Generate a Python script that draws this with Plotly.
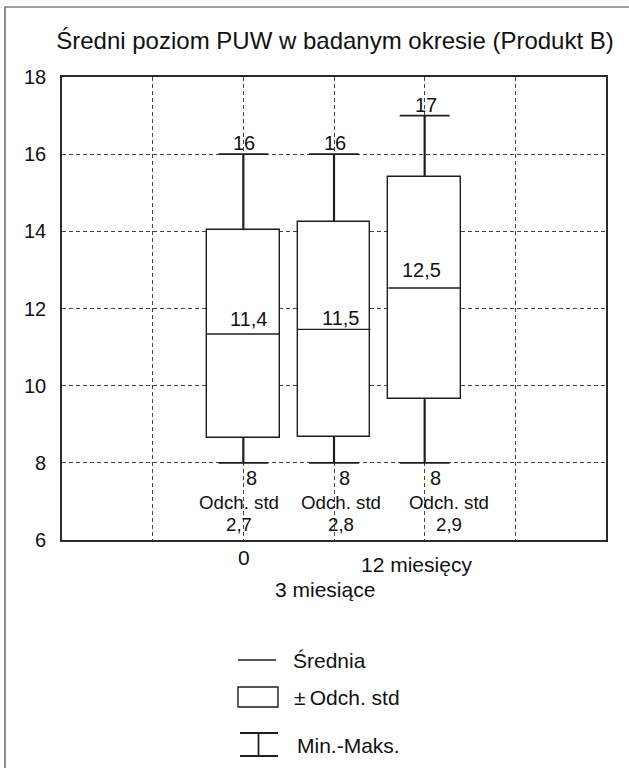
import plotly.graph_objects as go

# ---- data ----
categories = ["0", "3 miesiące", "12 miesięcy"]
means = [11.34, 11.46, 12.53]
sds = [2.69, 2.79, 2.88]
mins = [8, 8, 8]
maxs = [16, 16, 17]
mean_labels = ["11,4", "11,5", "12,5"]
sd_labels = ["2,7", "2,8", "2,9"]
min_labels = ["8", "8", "8"]
max_labels = ["16", "16", "17"]
y_ticks = [6, 8, 10, 12, 14, 16, 18]

# ---- styling / placement (pixels) ----
W, H = 629, 768
L, R, T, B = 62, 606, 77, 540   # plot area in pixels
FONT = "Liberation Sans, Arial, sans-serif"
INK = "#1e1e1e"
TXT = "#111111"
mean_dx = [5, 6, -3]
mean_dy = [15, 11, 18]
min_dx = [8, 10, 11]
sd_dx = [-4, 7, 24]
cat_dx = [1, -9, -8]
cat_row_px = [557, 589, 564]

def px_x(px):
    return (px - L) / (R - L)

def px_y(py):
    return (B - py) / (B - T)

xs = list(range(len(categories)))
box_w = 0.8
cap_w = 0.55

fig = go.Figure()

# boxes (mean ± sd)
fig.add_trace(go.Bar(
    x=xs,
    y=[2 * s for s in sds],
    base=[m - s for m, s in zip(means, sds)],
    width=box_w,
    marker=dict(color="white", line=dict(color=INK, width=1.4)),
    hoverinfo="skip",
    showlegend=False,
))

# whiskers
wx, wy = [], []
for i, m, s, lo, hi in zip(xs, means, sds, mins, maxs):
    wx += [i, i, None, i, i, None]
    wy += [m + s, hi, None, m - s, lo, None]
fig.add_trace(go.Scatter(x=wx, y=wy, mode="lines",
                         line=dict(color=INK, width=2.2), hoverinfo="skip", showlegend=False))

# caps
cx, cy = [], []
for i, lo, hi in zip(xs, mins, maxs):
    cx += [i - cap_w / 2, i + cap_w / 2, None, i - cap_w / 2, i + cap_w / 2, None]
    cy += [hi, hi, None, lo, lo, None]
fig.add_trace(go.Scatter(x=cx, y=cy, mode="lines",
                         line=dict(color=INK, width=1.8), hoverinfo="skip", showlegend=False))

# mean lines
mx, my = [], []
for i, m in zip(xs, means):
    mx += [i - box_w / 2, i + box_w / 2, None]
    my += [m, m, None]
fig.add_trace(go.Scatter(x=mx, y=my, mode="lines",
                         line=dict(color=INK, width=1.4), hoverinfo="skip", showlegend=False))

ann = []
f20 = dict(family=FONT, size=20, color=TXT)
f19 = dict(family=FONT, size=18.7, color=TXT)
f21 = dict(family=FONT, size=21, color=TXT)
for i in xs:
    ann.append(dict(x=i, y=maxs[i], text=max_labels[i], showarrow=False,
                    yanchor="middle", yshift=11, xshift=1, font=f20))
    ann.append(dict(x=i, y=means[i], text=mean_labels[i], showarrow=False,
                    yanchor="middle", yshift=mean_dy[i], xshift=mean_dx[i], font=f20))
    ann.append(dict(x=i, y=mins[i], text=min_labels[i], showarrow=False,
                    yanchor="middle", yshift=-15, xshift=min_dx[i], font=f20))
    ann.append(dict(x=i, y=mins[i], text="Odch. std", showarrow=False,
                    yanchor="middle", yshift=-40, xshift=sd_dx[i], font=f19))
    ann.append(dict(x=i, y=mins[i], text=sd_labels[i], showarrow=False,
                    yanchor="middle", yshift=-62, xshift=sd_dx[i], font=f19))

# staggered category labels
for i, cat in enumerate(categories):
    ann.append(dict(x=i, xref="x", y=px_y(cat_row_px[i]), yref="paper", text=cat,
                    showarrow=False, yanchor="middle", xshift=cat_dx[i], font=f21))

# legend (drawn)
shapes = []
shapes.append(dict(type="line", xref="paper", yref="paper",
                   x0=px_x(238), x1=px_x(276), y0=px_y(660), y1=px_y(660),
                   line=dict(color=INK, width=1.4)))
ann.append(dict(xref="paper", yref="paper", x=px_x(291), y=px_y(660), text="Średnia",
                showarrow=False, xanchor="left", yanchor="middle", font=f21))
shapes.append(dict(type="rect", xref="paper", yref="paper",
                   x0=px_x(238), x1=px_x(278), y0=px_y(687), y1=px_y(707),
                   line=dict(color=INK, width=1.4), fillcolor="white"))
ann.append(dict(xref="paper", yref="paper", x=px_x(292), y=px_y(697), text="±\u2009Odch. std",
                showarrow=False, xanchor="left", yanchor="middle", font=f21))
for yy in (733, 756):
    shapes.append(dict(type="line", xref="paper", yref="paper",
                       x0=px_x(240), x1=px_x(278), y0=px_y(yy), y1=px_y(yy),
                       line=dict(color=INK, width=1.8)))
shapes.append(dict(type="line", xref="paper", yref="paper",
                   x0=px_x(258.5), x1=px_x(258.5), y0=px_y(733), y1=px_y(756),
                   line=dict(color=INK, width=1.8)))
ann.append(dict(xref="paper", yref="paper", x=px_x(295), y=px_y(745), text="Min.-Maks.",
                showarrow=False, xanchor="left", yanchor="middle", font=f21))

# outer frame
shapes.append(dict(type="rect", xref="paper", yref="paper",
                   x0=px_x(5), x1=px_x(660), y0=px_y(800), y1=px_y(7),
                   line=dict(color="#444444", width=1.2), fillcolor="rgba(0,0,0,0)", layer="below"))

fig.update_layout(
    width=W, height=H,
    margin=dict(l=L, r=W - R, t=T, b=H - B),
    paper_bgcolor="white", plot_bgcolor="white",
    title=dict(text="Średni poziom PUW w badanym okresie (Produkt B)",
               x=px_x(335), xref="paper", xanchor="center",
               y=1 - 41 / H, yref="container", yanchor="middle",
               font=dict(family=FONT, size=24, color=TXT)),
    xaxis=dict(range=[-2, 4], tickvals=[-1, 0, 1, 2, 3], showticklabels=False,
               showgrid=True, gridcolor="#444444", gridwidth=1, griddash="4px,3px",
               showline=True, linecolor="#2a2a2a", linewidth=1.6, mirror=True,
               zeroline=False, ticks="", fixedrange=True),
    yaxis=dict(range=[6, 18], tickvals=y_ticks, ticktext=[str(v) for v in y_ticks],
               showgrid=True, gridcolor="#444444", gridwidth=1, griddash="4px,3px",
               showline=True, linecolor="#2a2a2a", linewidth=1.6, mirror=True,
               zeroline=False, ticks="", ticklabelstandoff=10,
               tickfont=dict(family=FONT, size=20, color=TXT), fixedrange=True),
    annotations=ann,
    shapes=shapes,
    bargap=0,
)

fig.write_html("out.html",
               config={"displayModeBar": False},
               post_script="document.body.style.margin='0';document.body.style.overflow='hidden';")
